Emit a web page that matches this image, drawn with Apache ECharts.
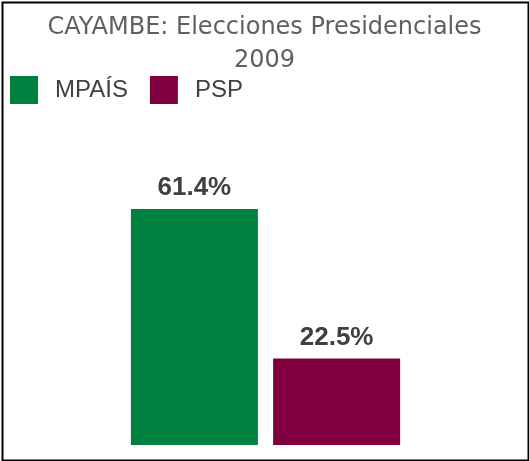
<!DOCTYPE html>
<html>
<head>
<meta charset="utf-8">
<script src="https://cdn.jsdelivr.net/npm/echarts@6/dist/echarts.min.js"></script>
<style>
  html, body { margin: 0; padding: 0; background: #fff; }
  #chart { width: 529px; height: 461px; }
</style>
</head>
<body>
<div id="chart"></div>
<script>
const titleText = 'CAYAMBE: Elecciones Presidenciales\n2009'
const categories = ['Cayambe']
const parties = ['MPAÍS', 'PSP']
const mpaisValues = [61.4]
const pspValues = [22.5]
const partyColors = ['#00803F', '#80003F']

const chart = echarts.init(document.getElementById('chart'))

const labelStyle = {
  show: true,
  position: 'top',
  distance: 8,
  color: '#404040',
  fontFamily: 'Liberation Sans',
  fontWeight: 'bold',
  fontSize: 26,
  formatter: (p) => p.value.toFixed(1) + '%',
}

const option = {
  animation: false,
  backgroundColor: '#fff',
  color: partyColors,
  title: {
    text: titleText,
    left: 'center',
    top: 6,
    textStyle: {
      color: '#5f5f5f',
      fontFamily: 'DejaVu Sans',
      fontWeight: 'normal',
      fontSize: 24,
      lineHeight: 33,
    },
  },
  legend: {
    data: parties,
    left: 10,
    top: 76,
    padding: 0,
    itemWidth: 28,
    itemHeight: 28,
    itemGap: 22,
    icon: 'rect',
    textStyle: {
      color: '#404040',
      fontFamily: 'Liberation Sans',
      fontSize: 24,
      padding: [0, 0, 0, 12],
    },
  },
  grid: {
    left: 10,
    right: 8,
    top: 176,
    bottom: 16,
  },
  xAxis: {
    type: 'category',
    data: categories,
    show: false,
  },
  yAxis: {
    type: 'value',
    min: 0,
    max: 70,
    show: false,
    splitLine: { show: false },
  },
  series: [
    {
      name: parties[0],
      type: 'bar',
      barWidth: 127,
      barGap: '12%',
      data: mpaisValues,
      label: labelStyle,
    },
    {
      name: parties[1],
      type: 'bar',
      barWidth: 127,
      barGap: '12%',
      data: pspValues,
      label: labelStyle,
    },
  ],
  graphic: [
    {
      type: 'rect',
      left: 0,
      top: 0,
      shape: { x: 1, y: 1, width: 526, height: 458 },
      style: { fill: 'none', stroke: '#000', lineWidth: 2 },
      silent: true,
    },
  ],
}

chart.setOption(option)
</script>
</body>
</html>
